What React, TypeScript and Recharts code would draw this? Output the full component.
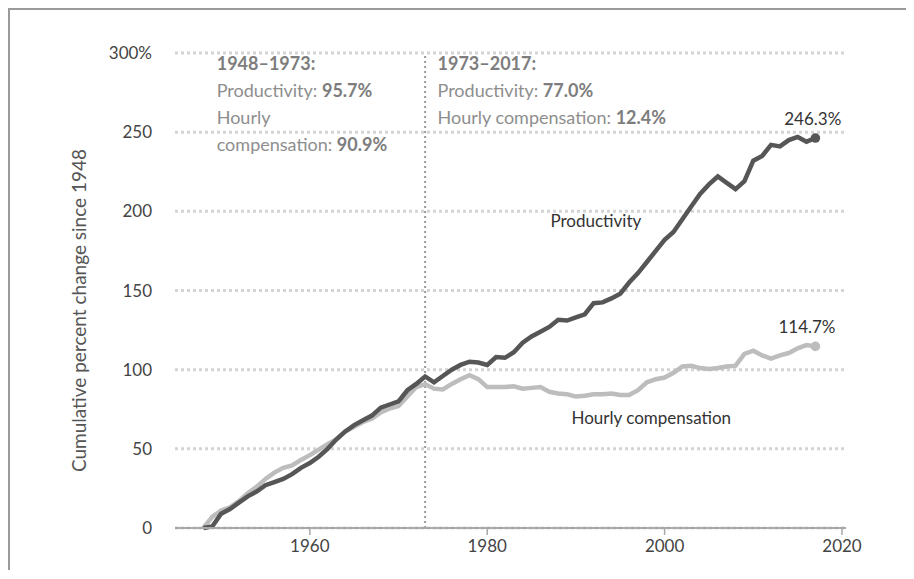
import React from 'react';
import {
  LineChart,
  Line,
  XAxis,
  YAxis,
  CartesianGrid,
  ReferenceLine,
  ReferenceDot,
} from 'recharts';

const years: number[] = [
  1948, 1949, 1950, 1951, 1952, 1953, 1954, 1955, 1956, 1957,
  1958, 1959, 1960, 1961, 1962, 1963, 1964, 1965, 1966, 1967,
  1968, 1969, 1970, 1971, 1972, 1973, 1974, 1975, 1976, 1977,
  1978, 1979, 1980, 1981, 1982, 1983, 1984, 1985, 1986, 1987,
  1988, 1989, 1990, 1991, 1992, 1993, 1994, 1995, 1996, 1997,
  1998, 1999, 2000, 2001, 2002, 2003, 2004, 2005, 2006, 2007,
  2008, 2009, 2010, 2011, 2012, 2013, 2014, 2015, 2016, 2017,
];

const productivity: number[] = [
  0, 1, 9, 12, 16, 20, 23, 27, 29, 31,
  34, 38, 41, 45, 50, 56, 61, 65, 68, 71,
  76, 78, 80, 87, 91, 95.7, 92, 96, 100, 103,
  105, 104.5, 103, 108, 107.5, 111, 117, 121, 124, 127,
  131.5, 131, 133, 135, 142, 142.5, 145, 148, 155, 161,
  168, 175, 182, 187, 195, 203, 211, 217, 222, 218,
  214, 219, 232, 235, 242, 241, 245, 247, 244, 246.3,
];

const compensation: number[] = [
  0, 7, 11, 13, 17, 22, 26, 31, 35, 38,
  39.5, 43, 46, 49.5, 53, 56, 61, 64, 67, 69,
  73, 75.5, 77, 83, 89, 90.9, 88, 87.5, 91, 94,
  96.5, 94, 89, 89, 89, 89.5, 88, 88.5, 89, 86,
  85, 84.5, 83, 83.5, 84.5, 84.5, 85, 84, 84, 87,
  92, 94, 95, 98, 102, 102.5, 101, 100.5, 101, 102,
  102.5, 110, 112, 109, 107, 109, 110.5, 113.5, 115.5, 114.7,
];

const xTicks: number[] = [1960, 1980, 2000, 2020];
const yTicks: number[] = [0, 50, 100, 150, 200, 250, 300];

const data = years.map((year, i) => ({
  year,
  productivity: productivity[i],
  compensation: compensation[i],
}));

const FONT = 'Lato, "Open Sans", sans-serif';
const GRAY_TEXT = '#8e8e8e';
const GRAY_BOLD = '#7d7d7d';
const LINE_H = 27;

const lastIndex = data.length - 1;

const EndDot = (color: string) => (props: any) => {
  const { cx, cy, index } = props;
  if (index !== lastIndex) return <g key={`d${index}`} />;
  return <circle key={`d${index}`} cx={cx} cy={cy} r={4.8} fill={color} stroke="none" />;
};

type Seg = { t: string; b?: boolean };

const Block = (lines: Seg[][]) => (props: any) => {
  const { cx, cy } = props;
  return (
    <g>
      {lines.map((segs, li) => (
        <text
          key={li}
          x={cx}
          y={cy + li * LINE_H}
          fontFamily={FONT}
          fontSize={18}
          fill={GRAY_TEXT}
        >
          {segs.map((s, si) => (
            <tspan key={si} fontWeight={s.b ? 700 : 400} fill={s.b ? GRAY_BOLD : GRAY_TEXT}>
              {s.t}
            </tspan>
          ))}
        </text>
      ))}
    </g>
  );
};

const Label = (txt: string, color: string, anchor: 'start' | 'middle' | 'end') => (props: any) => (
  <text
    x={props.cx}
    y={props.cy}
    fontFamily={FONT}
    fontSize={17}
    fill={color}
    textAnchor={anchor}
  >
    {txt}
  </text>
);

const YLabel = (props: any) => {
  const vb = props.viewBox || {};
  const x = vb.x + 13;
  const y = vb.y + vb.height / 2 + 20;
  return (
    <text
      x={x}
      y={y}
      transform={`rotate(-90, ${x}, ${y})`}
      textAnchor="middle"
      dominantBaseline="central"
      fontFamily={FONT}
      fontSize={19}
      fill="#555"
    >
      Cumulative percent change since 1948
    </text>
  );
};

export default function App() {
  return (
    <div
      style={{
        width: 898,
        height: 562,
        boxSizing: 'border-box',
        borderTop: '2px solid #9a9a9a',
        borderLeft: '2px solid #9a9a9a',
        background: '#fff',
      }}
    >
      <LineChart
        width={896}
        height={560}
        data={data}
        margin={{ top: 43, right: 60, left: 55, bottom: 12 }}
      >
        <CartesianGrid
          horizontal={true}
          vertical={false}
          stroke="#d4d4d4"
          strokeWidth={3}
          strokeDasharray="3 3"
        />
        <XAxis
          type="number"
          dataKey="year"
          domain={[1944.8, 2020.45]}
          allowDataOverflow
          ticks={xTicks}
          height={30}
          axisLine={{ stroke: '#a8a8a8', strokeWidth: 2 }}
          tickLine={{ stroke: '#a8a8a8', strokeWidth: 1.5 }}
          tickSize={7}
          tickMargin={5}
          tick={{ fontFamily: FONT, fontSize: 17, fill: '#444' }}
        />
        <YAxis
          type="number"
          domain={[0, 300]}
          ticks={yTicks}
          width={110}
          axisLine={false}
          tickLine={false}
          tickSize={0}
          tickMargin={23}
          tick={{ fontFamily: FONT, fontSize: 17, fill: '#444' }}
          tickFormatter={(v: number) => (v === 300 ? '300%' : String(v))}
          label={<YLabel />}
        />
        <ReferenceLine
          x={1973}
          stroke="#9a9a9a"
          strokeWidth={2}
          strokeDasharray="2 3"
        />
        <Line
          type="linear"
          dataKey="compensation"
          stroke="#bdbdbd"
          strokeWidth={4.5}
          dot={EndDot('#bdbdbd')}
          activeDot={false}
          isAnimationActive={false}
        />
        <Line
          type="linear"
          dataKey="productivity"
          stroke="#565656"
          strokeWidth={4.5}
          dot={EndDot('#565656')}
          activeDot={false}
          isAnimationActive={false}
        />
        <ReferenceDot
          x={1949.5}
          y={289}
          r={1}
          shape={Block([
            [{ t: '1948–1973:', b: true }],
            [{ t: 'Productivity: ' }, { t: '95.7%', b: true }],
            [{ t: 'Hourly' }],
            [{ t: 'compensation: ' }, { t: '90.9%', b: true }],
          ])}
        />
        <ReferenceDot
          x={1974.4}
          y={289}
          r={1}
          shape={Block([
            [{ t: '1973–2017:', b: true }],
            [{ t: 'Productivity: ' }, { t: '77.0%', b: true }],
            [{ t: 'Hourly compensation: ' }, { t: '12.4%', b: true }],
          ])}
        />
        <ReferenceDot x={1992.25} y={190} r={1} shape={Label('Productivity', '#333', 'middle')} />
        <ReferenceDot x={1998.5} y={65.7} r={1} shape={Label('Hourly compensation', '#333', 'middle')} />
        <ReferenceDot x={2016.7} y={254.4} r={1} shape={Label('246.3%', '#333', 'middle')} />
        <ReferenceDot x={2016.05} y={123} r={1} shape={Label('114.7%', '#333', 'middle')} />
      </LineChart>
    </div>
  );
}
